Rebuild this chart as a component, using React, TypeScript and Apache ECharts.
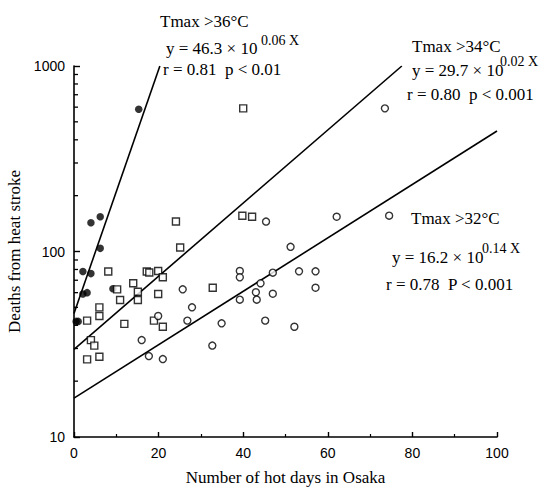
import React, { useEffect, useRef } from "react";
import * as echarts from "echarts";

// Tmax > 36°C (filled circles)
const hot36X = [0.5, 1.0, 2.1, 3.1, 2.1, 4.0, 4.0, 6.2, 6.2, 9.2, 15.3];
const hot36Y = [42, 42, 59, 60, 78, 76, 143, 154, 104, 63, 584];

// Tmax > 34°C (open squares)
const hot34X = [24.1, 25.1, 8.1, 17.2, 17.8, 19.9, 21.0, 14.0, 10.2, 15.1, 19.9, 10.9, 15.1, 6.0, 6.0, 3.1, 11.9, 18.9, 21.0, 4.0, 4.8, 3.1, 6.0, 32.8, 40.0, 39.8, 42.1];
const hot34Y = [145, 105, 78, 78, 77, 78.5, 72.6, 67.4, 62.5, 60.7, 59, 54.8, 54.8, 50, 44.9, 42.4, 40.7, 42.4, 39.3, 33.3, 31.1, 26.2, 27.1, 63.8, 591, 156, 154];

// Tmax > 32°C (open circles)
const hot32X = [25.7, 27.9, 19.9, 26.8, 16.0, 32.7, 17.7, 21.0, 39.2, 39.2, 47.0, 44.1, 43.0, 47.0, 39.2, 43.2, 53.2, 57.1, 57.1, 34.9, 45.2, 52.1, 73.5, 45.4, 62.1, 74.5, 51.2];
const hot32Y = [62.5, 50, 44.9, 42.4, 33.3, 31.1, 27.3, 26.3, 78.5, 72.6, 76.9, 67.4, 60.3, 59.2, 55, 55, 78.2, 78.2, 63.8, 41, 42.4, 39.3, 591, 145, 154, 156, 106];

// regression lines (endpoints)
const line36X = [0, 20.3];
const line36Y = [46.3, 1000];
const line34X = [0, 77.5];
const line34Y = [29.7, 1000];
const line32X = [0, 100];
const line32Y = [16.2, 446];

const yMinorTicks = [20, 30, 40, 50, 60, 70, 80, 90, 200, 300, 400, 500, 600, 700, 800, 900];

const zip = (xs: number[], ys: number[]) => xs.map((x, i) => [x, ys[i]]);

const SERIF = "'Liberation Serif', 'Times New Roman', serif";
const SANS = "'Liberation Sans', Arial, sans-serif";

export default function App() {
  const ref = useRef<HTMLDivElement>(null);
  useEffect(() => {
    if (!ref.current) return;
    const chart = echarts.init(ref.current, undefined, { renderer: "svg" });
    const txt = (x: number, y: number, text: string, size = 17) => ({
      type: "text",
      x,
      y,
      style: { text, fill: "#000", font: `${size}px ${SERIF}`, textVerticalAlign: "middle", textAlign: "left" },
    });
    const lineSeries = (xs: number[], ys: number[]) => ({
      type: "line",
      data: zip(xs, ys),
      symbol: "none",
      lineStyle: { color: "#000", width: 1.6 },
      z: 1,
    });
    chart.setOption({
      animation: false,
      backgroundColor: "#fff",
      grid: { left: 74, right: 54, top: 66, bottom: 51, containLabel: false, outerBoundsMode: "none" },
      xAxis: {
        type: "value",
        min: 0,
        max: 100,
        interval: 20,
        name: "Number of hot days in Osaka",
        nameLocation: "middle",
        nameGap: 32,
        nameTextStyle: { fontFamily: SERIF, fontSize: 17, color: "#000" },
        axisLine: { show: true, lineStyle: { color: "#000", width: 1.6 } },
        axisTick: { show: true, inside: true, length: 5, lineStyle: { color: "#000", width: 1.4 } },
        minorTick: { show: true, splitNumber: 2, length: 3, lineStyle: { color: "#000", width: 1.2 } },
        axisLabel: { color: "#000", fontFamily: SANS, fontSize: 14, margin: 9 },
        splitLine: { show: false },
      },
      yAxis: {
        type: "log",
        logBase: 10,
        min: 10,
        max: 1000,
        name: "Deaths from heat stroke",
        nameLocation: "middle",
        nameGap: 39,
        nameTextStyle: { fontFamily: SERIF, fontSize: 17, color: "#000" },
        axisLine: { show: true, lineStyle: { color: "#000", width: 1.6 } },
        axisTick: { show: true, inside: true, length: 6, lineStyle: { color: "#000", width: 1.4 } },
        axisLabel: { color: "#000", fontFamily: SANS, fontSize: 14, margin: 9, formatter: (v: number) => String(Math.round(v)) },
        splitLine: { show: false },
      },
      series: [
        {
          type: "custom",
          data: yMinorTicks.map((v) => [0, v]),
          renderItem: (_p: any, api: any) => {
            const pt = api.coord([api.value(0), api.value(1)]);
            return {
              type: "line",
              shape: { x1: pt[0], y1: pt[1], x2: pt[0] + 4, y2: pt[1] },
              style: { stroke: "#000", lineWidth: 1.3 },
            };
          },
          silent: true,
          z: 3,
        },
        lineSeries(line36X, line36Y),
        lineSeries(line34X, line34Y),
        lineSeries(line32X, line32Y),
        {
          type: "scatter",
          data: zip(hot36X, hot36Y),
          symbol: "circle",
          symbolSize: 7.5,
          itemStyle: { color: "#000" },
          z: 4,
        },
        {
          type: "scatter",
          data: zip(hot34X, hot34Y),
          symbol: "rect",
          symbolSize: 7,
          itemStyle: { color: "#fff", borderColor: "#000", borderWidth: 1.4 },
          z: 4,
        },
        {
          type: "scatter",
          data: zip(hot32X, hot32Y),
          symbol: "circle",
          symbolSize: 7,
          itemStyle: { color: "#fff", borderColor: "#000", borderWidth: 1.4 },
          z: 4,
        },
      ],
      graphic: [
        txt(160, 21, "Tmax >36°C"),
        txt(166, 48, "y = 46.3 × 10"),
        txt(261, 40, "0.06 X", 14),
        txt(163, 69, "r = 0.81  p < 0.01"),
        txt(412, 46, "Tmax >34°C"),
        txt(412, 70, "y = 29.7 × 10"),
        txt(500, 61, "0.02 X", 14),
        txt(407, 94, "r = 0.80  p < 0.001"),
        txt(411, 218, "Tmax >32°C"),
        txt(392, 257, "y = 16.2 × 10"),
        txt(482, 248, "0.14 X", 14),
        txt(386, 284, "r = 0.78  P < 0.001"),
      ],
    });
    return () => chart.dispose();
  }, []);
  return <div ref={ref} style={{ width: 551, height: 488, position: "absolute", left: 0, top: 0 }} />;
}
